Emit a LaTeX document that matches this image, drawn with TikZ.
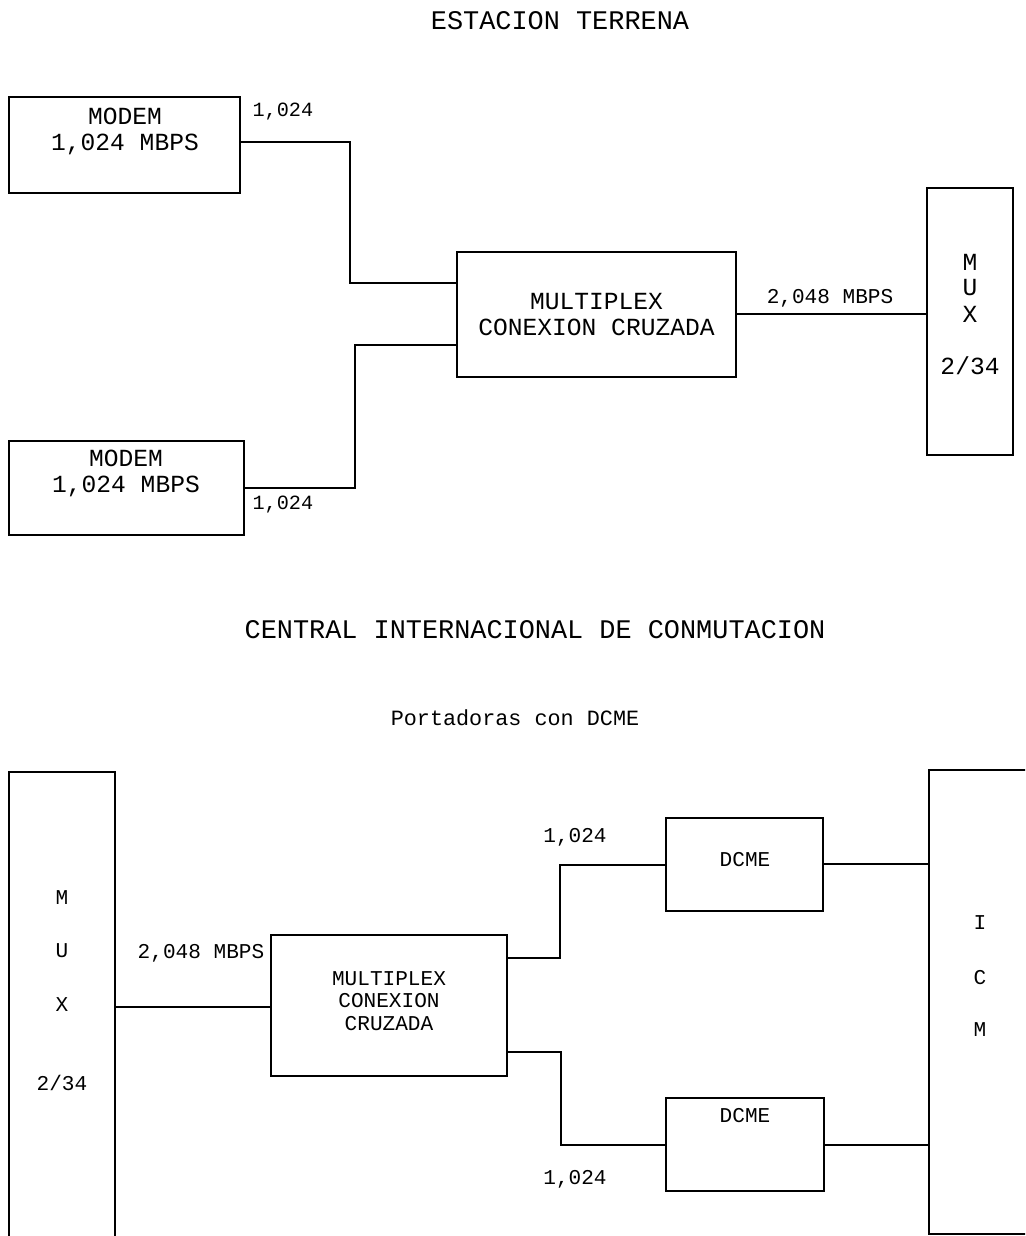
\documentclass[tikz,border=0pt]{standalone}
\usepackage{fontspec}
\setmainfont{Liberation Mono}
\begin{document}
\begin{tikzpicture}[x=0.02cm,y=-0.02cm,line width=0.7pt,
  blk/.style={draw,inner sep=0pt},
  txt/.style={inner sep=0pt,align=center},
  big/.style={font=\fontsize{14}{14.8}\selectfont},
  med/.style={font=\fontsize{12}{13}\selectfont},
  sml/.style={font=\fontsize{11.5}{13}\selectfont},
  ttl/.style={font=\fontsize{15.3}{17}\selectfont}]
\useasboundingbox (0,0) rectangle (1025,1236);
\clip (0,0) rectangle (1025,1236);

% ---------------- earth station ----------------
\node[txt,ttl] (tit1) at (560,21) {ESTACION TERRENA};

\node[blk,minimum width=4.62cm,minimum height=1.92cm] (modemA) at (124.5,145) {};
\node[txt,big] (modemAt) at (125,131) {MODEM\\1,024 MBPS};

\node[blk,minimum width=4.70cm,minimum height=1.88cm] (modemB) at (126.5,488) {};
\node[txt,big] (modemBt) at (126,473) {MODEM\\1,024 MBPS};

\node[blk,minimum width=5.58cm,minimum height=2.50cm,txt,big] (mpx) at (596.5,314.5) {MULTIPLEX\\CONEXION CRUZADA};

\node[blk,minimum width=1.72cm,minimum height=5.34cm] (muxA) at (970,321.5) {};
\node[txt,big] (muxAm) at (970,262) {M};
\node[txt,big] (muxAu) at (970,288) {U};
\node[txt,big] (muxAx) at (970,314) {X};
\node[txt,big] (muxAn) at (970,366) {2/34};

\draw (modemA.east |- 0,142) -- (350,142) |- (mpx.west |- 0,283);
\draw (modemB.east |- 0,488) -- (355,488) |- (mpx.west |- 0,345);
\draw (mpx.east |- 0,314) -- (muxA.west |- 0,314);

\node[txt,sml,anchor=west] (rA) at (252,112) {1,024};
\node[txt,sml,anchor=west] (rB) at (252,505) {1,024};
\node[txt,med] (rC) at (830,298) {2,048 MBPS};

% ---------------- switching centre ----------------
\node[txt,ttl] (tit2) at (535,630) {CENTRAL INTERNACIONAL DE CONMUTACION};
\node[txt,font=\fontsize{12.4}{14}\selectfont] (tit3) at (515,718) {Portadoras con DCME};

\node[blk,minimum width=2.12cm,minimum height=9.96cm] (muxB) at (62,1021) {};
\node[txt,med] (muxBm) at (62,898) {M};
\node[txt,med] (muxBu) at (62,951) {U};
\node[txt,med] (muxBx) at (62,1005) {X};
\node[txt,med] (muxBn) at (62,1083) {2/34};

\node[blk,minimum width=4.72cm,minimum height=2.82cm] (mpx2) at (389,1005.5) {};
\node[txt,font=\fontsize{12}{13}\selectfont] (mpx2t) at (389,1001) {MULTIPLEX\\CONEXION\\CRUZADA};

\node[blk,minimum width=3.14cm,minimum height=1.86cm] (dcme1) at (744.5,864.5) {};
\node[txt,med] (dcme1t) at (745,860) {DCME};
\node[blk,minimum width=3.16cm,minimum height=1.86cm] (dcme2) at (745,1144.5) {};
\node[txt,med] (dcme2t) at (745,1116) {DCME};

\node[blk,minimum width=2.82cm,minimum height=9.28cm] (icm) at (999.5,1002) {};
\node[txt,med] (icmi) at (980,923) {I};
\node[txt,med] (icmc) at (980,978) {C};
\node[txt,med] (icmm) at (980,1030) {M};

\draw (muxB.east |- 0,1007) -- (mpx2.west |- 0,1007);
\draw (mpx2.east |- 0,958) -- (560,958) |- (dcme1.west |- 0,865);
\draw (mpx2.east |- 0,1052) -- (561,1052) |- (dcme2.west |- 0,1145);
\draw (dcme1.east |- 0,864) -- (icm.west |- 0,864);
\draw (dcme2.east |- 0,1145) -- (icm.west |- 0,1145);

\node[txt,med] (rD) at (201,953) {2,048 MBPS};
\node[txt,med] (rE) at (575,837) {1,024};
\node[txt,med] (rF) at (575,1179) {1,024};
\end{tikzpicture}
\end{document}
